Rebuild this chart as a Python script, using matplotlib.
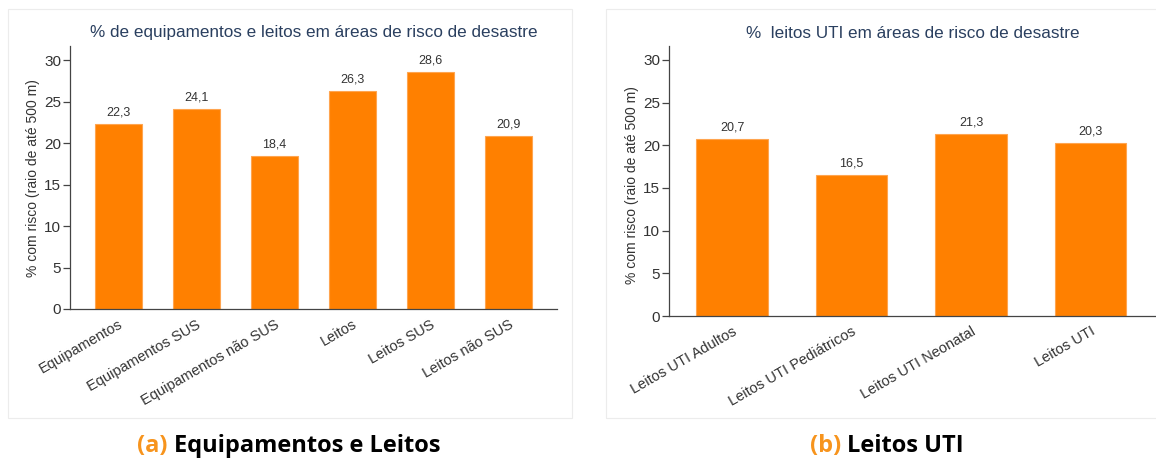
import matplotlib.pyplot as plt
from matplotlib.patches import Rectangle

# dados dos dois paineis
cat_a = ['Equipamentos', 'Equipamentos SUS', 'Equipamentos não SUS',
         'Leitos', 'Leitos SUS', 'Leitos não SUS']
val_a = [22.3, 24.1, 18.4, 26.3, 28.6, 20.9]

cat_b = ['Leitos UTI Adultos', 'Leitos UTI Pediátricos', 'Leitos UTI Neonatal', 'Leitos UTI']
val_b = [20.7, 16.5, 21.3, 20.3]

yticks = [0, 5, 10, 15, 20, 25, 30]

W, H = 1156, 459
BAR = '#ff8000'
TXT = '#444444'

plt.rcParams['font.family'] = ['Liberation Sans', 'DejaVu Sans']


def px_axes(fig, x0, x1, ytop, ybot):
    return fig.add_axes([x0 / W, 1 - ybot / H, (x1 - x0) / W, (ybot - ytop) / H])


def painel(fig, ax, cats, vals, titulo, ytop, xlim):
    x = range(len(cats))
    ax.bar(x, vals, width=0.6, color=BAR, edgecolor='#ffa550', linewidth=0.8)
    for xi, v in zip(x, vals):
        ax.annotate(f'{v:.1f}'.replace('.', ','), (xi, v), xytext=(0, 4),
                    textcoords='offset points', ha='center', va='bottom',
                    fontsize=9, color='#333333')
    ax.set_xlim(*xlim)
    ax.set_ylim(0, ytop)
    ax.set_yticks(yticks)
    ax.set_xticks(list(x))
    ax.set_xticklabels(cats, rotation=30, ha='right', va='top',
                       rotation_mode='anchor', fontsize=10.5, color='#333333')
    ax.tick_params(axis='x', length=0, pad=6)
    ax.tick_params(axis='y', length=5, width=0.9, color=TXT, labelsize=11,
                   labelcolor='#333333', pad=1.5)
    for s in ['top', 'right']:
        ax.spines[s].set_visible(False)
    for s in ['left', 'bottom']:
        ax.spines[s].set_color(TXT)
        ax.spines[s].set_linewidth(0.9)
    pos = ax.get_position()
    fig.text(pos.x0 + pos.width / 2, 1 - 33 / H, titulo, ha='center', va='center',
             fontsize=12.3, color='#2a3f5f')


fig = plt.figure(figsize=(W / 100, H / 100), dpi=100)

# molduras dos paineis
for x0, x1 in [(8, 572), (606, 1162)]:
    fig.patches.append(Rectangle((x0 / W, 1 - 418 / H), (x1 - x0) / W, 409 / H,
                                 transform=fig.transFigure, fill=False,
                                 edgecolor='#ececec', linewidth=0.8))

ax1 = px_axes(fig, 70, 557, 46, 309)
painel(fig, ax1, cat_a, val_a,
       '% de equipamentos e leitos em áreas de risco de desastre', 31.7, (-0.62, 5.62))
fig.text(33 / W, 1 - 178 / H, '% com risco (raio de até 500 m)', rotation=90,
         ha='center', va='center', fontsize=10, color='#333333')

ax2 = px_axes(fig, 669, 1156, 46, 316)
painel(fig, ax2, cat_b, val_b,
       '%  leitos UTI em áreas de risco de desastre', 31.64, (-0.53, 3.55))
fig.text(632 / W, 1 - 185 / H, '% com risco (raio de até 500 m)', rotation=90,
         ha='center', va='center', fontsize=10, color='#333333')

# legendas inferiores
for cx, letra, nome in [(289, '(a)', 'Equipamentos e Leitos'), (887, '(b)', 'Leitos UTI')]:
    t = fig.text(cx / W, 1 - 446 / H, f'{letra} {nome}', ha='center', va='center',
                 fontsize=17, fontweight='bold', family='Open Sans', color='black')
    fig.canvas.draw()
    bb = t.get_window_extent()
    t.set_text(nome)
    t.set_ha('right')
    t.set_position((bb.x1 / W, 1 - 446 / H))
    fig.text(bb.x0 / W, 1 - 446 / H, letra, ha='left', va='center',
             fontsize=17, fontweight='bold', family='Open Sans', color='#f7941d')

fig.savefig('out.png', dpi=100)
